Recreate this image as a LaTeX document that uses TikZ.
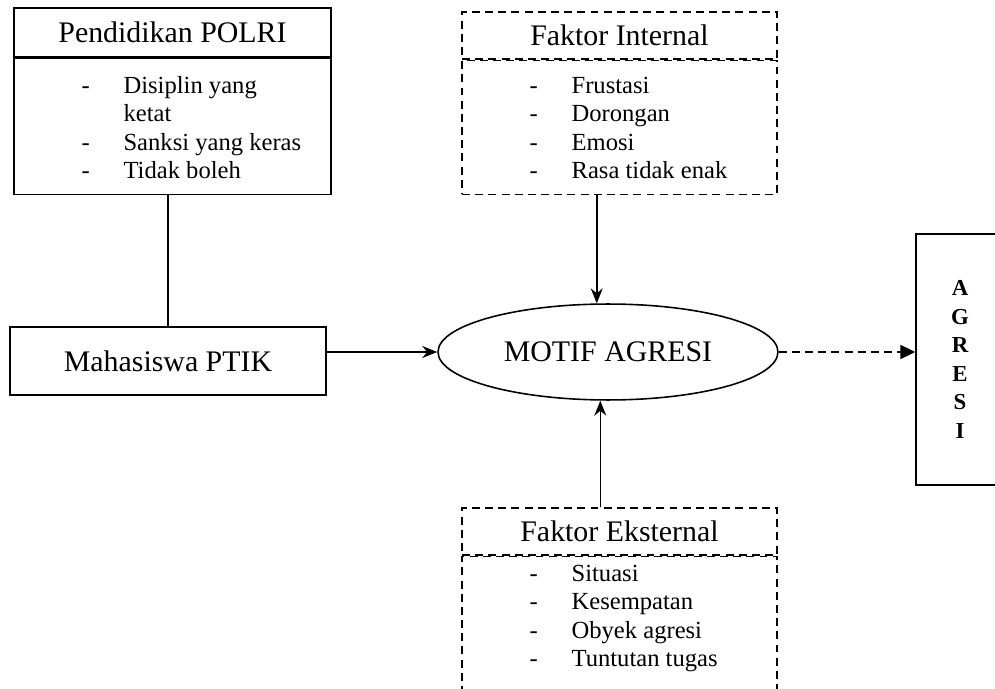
\documentclass[tikz,border=0pt]{standalone}
\usepackage{fontspec}
\setmainfont{Liberation Serif}
\usetikzlibrary{arrows.meta, positioning, shapes.geometric}
\tikzset{
  solidbox/.style={draw=black, line width=0.9pt, inner sep=0pt},
  dashbox/.style={draw=black, line width=0.9pt, inner sep=0pt, dash pattern=on 4.5pt off 3pt},
  headtext/.style={font=\fontsize{17}{20}\selectfont},
  itemlist/.style={inner sep=0pt, anchor=north west, font=\fontsize{14}{16.2}\selectfont},
  link/.style={line width=0.9pt, -{Stealth[length=8.5pt, width=6.8pt]}}
}

\begin{document}
\begin{tikzpicture}[x=0.02cm, y=-0.02cm]
  \useasboundingbox (0,0) rectangle (995,689);
  \clip (0,0) rectangle (995,689);
  % Pendidikan POLRI
  \node[solidbox, headtext, minimum width=180.4pt, minimum height=27.9pt] (polrihead) at (172.5,32.5) {Pendidikan POLRI};
  \node[solidbox, minimum width=180.4pt, minimum height=77.4pt, below=0pt of polrihead] (polribody) {};
  \node[itemlist, below right=8.6pt and 38.7pt of polribody.north west] (polrilist) {\begin{tabular}{@{}p{23.9pt}@{}l@{}}
      - & Disiplin yang\\ & ketat\\ - & Sanksi yang keras\\ - & Tidak boleh
    \end{tabular}};
  \node[solidbox, headtext, minimum width=179.8pt, minimum height=38.7pt] (mhs) at (168,361) {Mahasiswa PTIK};
  % faktor internal / eksternal
  \node[dashbox, headtext, minimum width=179.2pt, minimum height=26.7pt] (inthead) at (619.5,35.5) {Faktor Internal};
  \node[dashbox, minimum width=179.2pt, minimum height=76.2pt, below=0pt of inthead] (intbody) {};
  \node[itemlist, below right=7.5pt and 38.7pt of intbody.north west] (intlist) {\begin{tabular}{@{}p{23.9pt}@{}l@{}}
      - & Frustasi\\ - & Dorongan\\ - & Emosi\\ - & Rasa tidak enak
    \end{tabular}};
  \node[dashbox, headtext, minimum width=179.2pt, minimum height=26.7pt] (exthead) at (619.5,531.5) {Faktor Eksternal};
  \node[dashbox, minimum width=179.2pt, minimum height=85.4pt, below=0pt of exthead] (extbody) {};
  \node[itemlist, below right=2.9pt and 38.7pt of extbody.north west] (extlist) {\begin{tabular}{@{}p{23.9pt}@{}l@{}}
      - & Situasi\\ - & Kesempatan\\ - & Obyek agresi\\ - & Tuntutan tugas
    \end{tabular}};
  % motif and result
  \node[ellipse, draw=black, line width=0.9pt, inner sep=0pt, headtext, minimum width=193.5pt, minimum height=54.6pt] (motif) at (608,352) {MOTIF AGRESI};
  \node[solidbox, align=center, font=\bfseries\fontsize{13}{16.2}\selectfont, minimum width=50pt, minimum height=142.8pt] (agresi) at (960,359.5) {A\\G\\R\\E\\S\\I};

  \draw[line width=0.9pt] (polribody.south -| mhs.north) -- (mhs.north);
  \draw[link] (mhs.east |- motif.west) -- (motif.west);
  \draw[link] (intbody.south -| motif.103) -- (motif.103);
  \draw[link] (exthead.north -| motif.261) -- (motif.261);
  \draw[line width=0.9pt, dash pattern=on 4.5pt off 3pt, -{Triangle[length=8.5pt, width=8pt]}] (motif.east) -- (motif.east -| agresi.west);
\end{tikzpicture}
\end{document}
